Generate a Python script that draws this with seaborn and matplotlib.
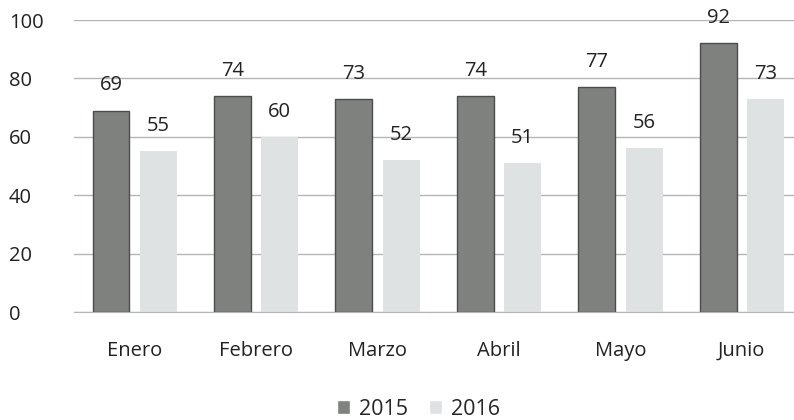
import matplotlib
matplotlib.use("Agg")
import matplotlib.pyplot as plt
import seaborn as sns
import pandas as pd

months = ["Enero", "Febrero", "Marzo", "Abril", "Mayo", "Junio"]
years = ["2015", "2016"]
vals_2015 = [69, 74, 73, 74, 77, 92]
vals_2016 = [55, 60, 52, 51, 56, 73]

df = pd.DataFrame({
    "mes": months * 2,
    "anio": [years[0]] * 6 + [years[1]] * 6,
    "valor": vals_2015 + vals_2016,
})

sns.set_style("white")
plt.rcParams["font.family"] = ["Open Sans", "DejaVu Sans"]

fig = plt.figure(figsize=(7.94, 4.2), dpi=100)
ax = fig.add_axes([74 / 794, 108 / 420, 1 - 74 / 794, 292 / 420])

palette = {"2015": "#7d827e", "2016": "#dfe2e2"}
sns.barplot(data=df, x="mes", y="valor", hue="anio", palette=palette,
            width=0.78, gap=0.22, ax=ax, legend=True)

for bar in ax.patches[:6]:
    bar.set_edgecolor("#4a4d4b")
    bar.set_linewidth(1.0)
for bar in ax.patches[6:12]:
    bar.set_edgecolor("none")

for cont in ax.containers:
    ax.bar_label(cont, padding=11, fontsize=14.5, color="#222222")

ax.set_ylim(0, 100)
ax.set_xlim(-0.5, 5.43)
ax.set_yticks(range(0, 101, 20))
ax.yaxis.grid(True, color="#b5b5b5", linewidth=1.0)
ax.set_axisbelow(True)
for s in ["left", "right", "top"]:
    ax.spines[s].set_visible(False)
ax.spines["bottom"].set_color("#b5b5b5")
ax.tick_params(axis="both", length=0, labelsize=14.5, colors="#222222")
ax.tick_params(axis="x", pad=21)
ax.tick_params(axis="y", pad=47)
for lab in ax.get_yticklabels():
    lab.set_horizontalalignment("left")
ax.set_xlabel("")
ax.set_ylabel("")

handles, labels = ax.get_legend_handles_labels()
ax.get_legend().remove()
fig.legend(handles, labels, loc="lower center", bbox_to_anchor=(0.527, -0.045),
           ncol=2, frameon=False, fontsize=15.5, handlelength=0.6, handleheight=0.6,
           columnspacing=1.0, handletextpad=0.4)

fig.savefig("out.png", dpi=100)
